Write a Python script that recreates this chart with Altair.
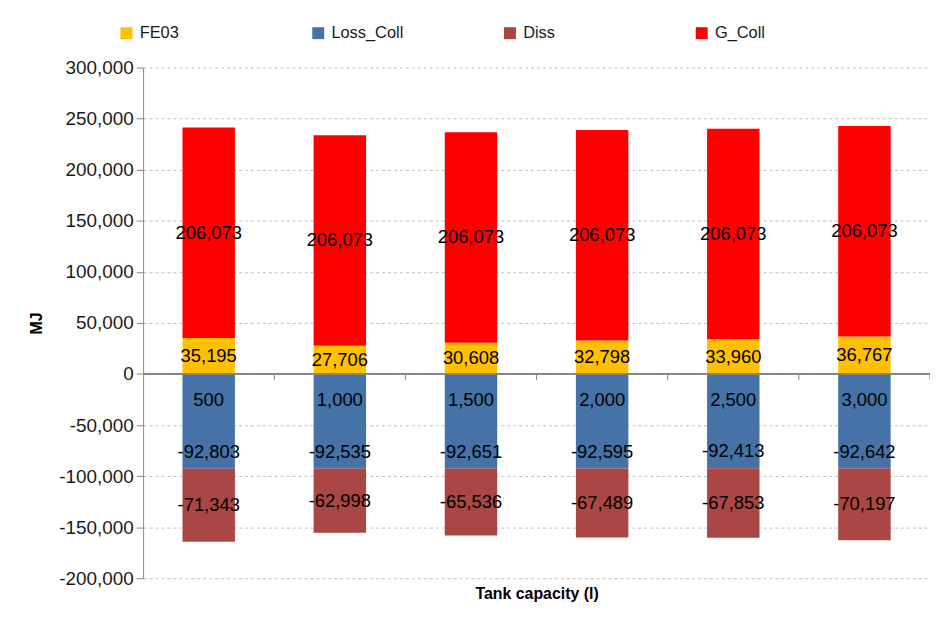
import altair as alt
import pandas as pd

categories = ["500", "1,000", "1,500", "2,000", "2,500", "3,000"]
fe03 = [35195, 27706, 30608, 32798, 33960, 36767]
loss_coll = [-92803, -92535, -92651, -92595, -92413, -92642]
diss = [-71343, -62998, -65536, -67489, -67853, -70197]
g_coll = [206073, 206073, 206073, 206073, 206073, 206073]

series_names = ["FE03", "Loss_Coll", "Diss", "G_Coll"]
series_colors = ["#FFC000", "#4572A7", "#AA4643", "#FF0000"]
y_ticks = [-200000, -150000, -100000, -50000, 0, 50000, 100000, 150000, 200000, 250000, 300000]

rows = []
for i, c in enumerate(categories):
    vals = {"FE03": fe03[i], "Loss_Coll": loss_coll[i], "Diss": diss[i], "G_Coll": g_coll[i]}
    pos = {
        "FE03": fe03[i] / 2,
        "G_Coll": fe03[i] + g_coll[i] / 2,
        "Loss_Coll": loss_coll[i],
        "Diss": loss_coll[i] + diss[i] / 2,
    }
    for k, s in enumerate(series_names):
        rows.append({"cap": c, "series": s, "value": vals[s], "order": k,
                     "labelpos": pos[s], "label": f"{vals[s]:,}"})
df = pd.DataFrame(rows)
cat_df = pd.DataFrame({"cap": categories})

FONT = "Liberation Sans"
x_scale = alt.Scale(paddingInner=0, paddingOuter=0)
x_axis = alt.Axis(labels=False, ticks=False, domain=False, grid=False,
                  title="Tank capacity (l)", titleFontSize=16, titleFontWeight="bold",
                  titleColor="#000000", titlePadding=7)
y_scale = alt.Scale(domain=[-200000, 300000], nice=False)
y_axis = alt.Axis(
    title="MJ", values=y_ticks,
    labelExpr="datum.value < 0 ? '-' + format(-datum.value, ',') : format(datum.value, ',')",
    grid=True, gridDash=[3, 3], gridColor="#BFBFBF",
    domainColor="#868686", tickColor="#868686", tickSize=7, labelPadding=3,
    labelFontSize=19, labelColor="#1a1a1a",
    titleFontSize=16, titleFontWeight="bold", titleColor="#000000",
    titleX=-107, titleY=257, titleAngle=270, titleAlign="center", titleBaseline="middle",
)

def X(**kw):
    return alt.X("cap:N", sort=categories, scale=x_scale, axis=x_axis, **kw)

bars = alt.Chart(df).mark_bar(width=alt.RelativeBandSize(0.4)).encode(
    x=X(),
    y=alt.Y("value:Q", stack="zero", scale=y_scale, axis=y_axis),
    color=alt.Color("series:N", scale=alt.Scale(domain=series_names, range=series_colors),
                    legend=alt.Legend(title=None, orient="none", legendX=-25, legendY=-43,
                                      direction="horizontal", columns=4, gridAlign="all",
                                      columnPadding=99, symbolType="square", symbolSize=144,
                                      symbolStrokeWidth=0, labelFontSize=16.5, labelOffset=5,
                                      labelColor="#1a1a1a", padding=0)),
    order=alt.Order("order:Q"),
)

zero_rule = alt.Chart(cat_df).mark_rule(color="#868686", strokeWidth=1).encode(
    y=alt.Y(datum=0, scale=y_scale, axis=y_axis)
)

tick_rules = alt.Chart(cat_df).mark_rule(color="#868686", strokeWidth=1).encode(
    x=X(bandPosition=1),
    y=alt.Y(datum=0, scale=y_scale, axis=y_axis),
    y2=alt.Y2(datum=-6000),
)

center_labels = alt.Chart(df).transform_filter(
    alt.datum.series != "Loss_Coll"
).mark_text(fontSize=18.5, color="#000000", baseline="middle", align="center").encode(
    x=X(),
    y=alt.Y("labelpos:Q", scale=y_scale, axis=y_axis),
    text="label:N",
)

loss_labels = alt.Chart(df).transform_filter(
    alt.datum.series == "Loss_Coll"
).mark_text(fontSize=18.5, color="#000000", baseline="middle", align="center", dy=-17).encode(
    x=X(),
    y=alt.Y("labelpos:Q", scale=y_scale, axis=y_axis),
    text="label:N",
)

cat_labels = alt.Chart(cat_df).mark_text(fontSize=18.5, color="#000000", baseline="middle",
                                         align="center", dy=26).encode(
    x=X(),
    y=alt.Y(datum=0, scale=y_scale, axis=y_axis),
    text="cap:N",
)

chart = alt.layer(bars, zero_rule, tick_rules, center_labels, loss_labels, cat_labels).properties(
    width=792, height=514,
    autosize=alt.AutoSizeParams(type="none"),
    padding={"left": 136, "top": 58, "right": 0, "bottom": 30},
    background="white",
).configure(font=FONT).configure_view(stroke=None)

chart.save("out.html", embed_options={"renderer": "svg", "actions": False})
